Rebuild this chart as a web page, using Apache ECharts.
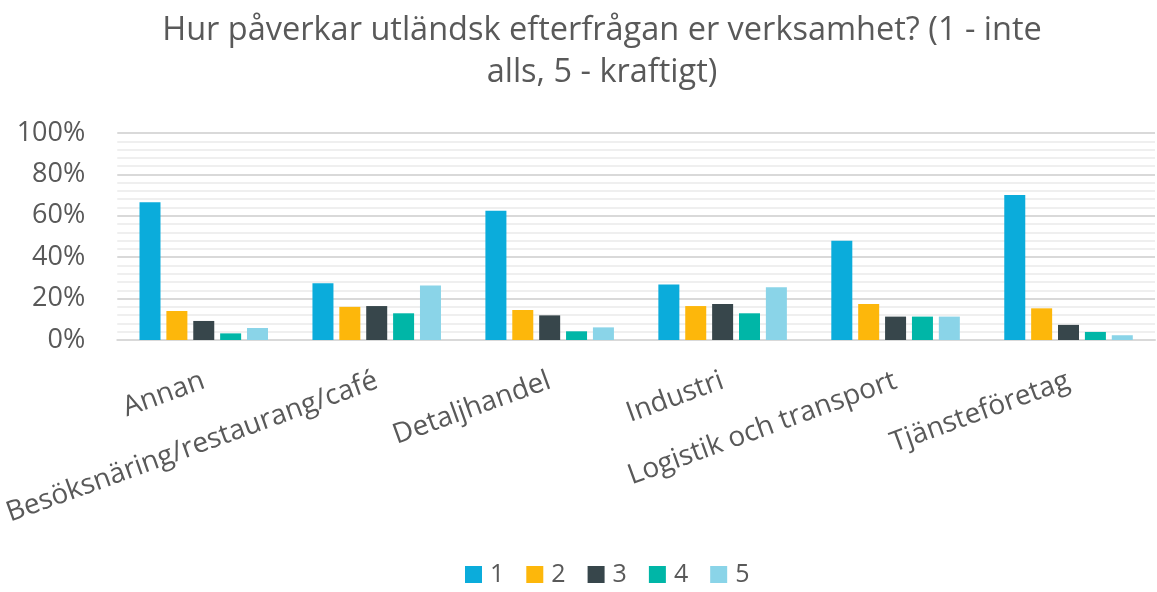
<!DOCTYPE html>
<html lang="sv">
<head>
    <meta charset="UTF-8">
    <title>Utländsk efterfrågan</title>
    <script src="https://cdn.jsdelivr.net/npm/echarts@6/dist/echarts.min.js"></script>
    <style>
        html, body { margin: 0; padding: 0; background: #fff; }
        #chart { width: 1157px; height: 592px; }
    </style>
</head>
<body>
<div id="chart"></div>
<script type="text/javascript">
    // branscher
    const categories = ['Annan', 'Besöksnäring/restaurang/café', 'Detaljhandel', 'Industri', 'Logistik och transport', 'Tjänsteföretag'];
    const seriesNames = ['1', '2', '3', '4', '5'];
    // andel svar per skala (procent)
    const svar1 = [66.6, 27.4, 62.4, 26.8, 47.9, 70.0];
    const svar2 = [14.0, 16.0, 14.5, 16.4, 17.4, 15.3];
    const svar3 = [9.2, 16.4, 11.9, 17.4, 11.3, 7.3];
    const svar4 = [3.2, 12.9, 4.2, 12.9, 11.3, 3.9];
    const svar5 = [5.8, 26.3, 6.1, 25.5, 11.3, 2.3];
    const yTicks = [0, 20, 40, 60, 80, 100];

    const colors = ['#0BACDB', '#FDB70B', '#37464B', '#00B6A7', '#8AD4E8'];
    const font = '"Open Sans", "Noto Sans", sans-serif';
    const values = [svar1, svar2, svar3, svar4, svar5];

    let chart = echarts.init(document.getElementById('chart'));
    let option = {
        color: colors,
        textStyle: { fontFamily: font, color: '#595959' },
        title: {
            text: 'Hur påverkar utländsk efterfrågan er verksamhet? (1 - inte\nalls, 5 - kraftigt)',
            left: 597,
            textAlign: 'center',
            top: 5,
            textStyle: {
                fontFamily: font,
                fontSize: 32.5,
                fontWeight: 'normal',
                color: '#595959',
                lineHeight: 42
            }
        },
        legend: {
            data: seriesNames,
            bottom: 0,
            left: 460,
            icon: 'rect',
            itemWidth: 17,
            itemHeight: 17,
            itemGap: 22,
            textStyle: { fontFamily: font, fontSize: 25, color: '#595959', padding: [0, 0, 0, 3] }
        },
        grid: {
            left: 115,
            right: 2,
            top: 133,
            bottom: 252
        },
        xAxis: {
            type: 'category',
            data: categories,
            axisLine: { lineStyle: { color: '#d9d9d9', width: 2 } },
            axisTick: { show: false },
            axisLabel: {
                rotate: 20,
                interval: 0,
                margin: 40,
                fontFamily: font,
                fontSize: 28,
                color: '#595959'
            }
        },
        yAxis: {
            type: 'value',
            min: yTicks[0],
            max: yTicks[yTicks.length - 1],
            interval: 20,
            axisLine: { show: false },
            axisTick: { show: false },
            axisLabel: {
                formatter: '{value}%',
                margin: 32,
                fontFamily: font,
                fontSize: 27,
                color: '#595959'
            },
            splitLine: { lineStyle: { color: '#d9d9d9', width: 2 } },
            minorTick: { show: false, splitNumber: 5 },
            minorSplitLine: { show: true, lineStyle: { color: '#efefef', width: 2 } }
        },
        series: seriesNames.map(function (name, i) {
            return {
                name: name,
                type: 'bar',
                barWidth: 21,
                barGap: '28%',
                data: values[i]
            };
        })
    };
    chart.setOption(option);
</script>
</body>
</html>
